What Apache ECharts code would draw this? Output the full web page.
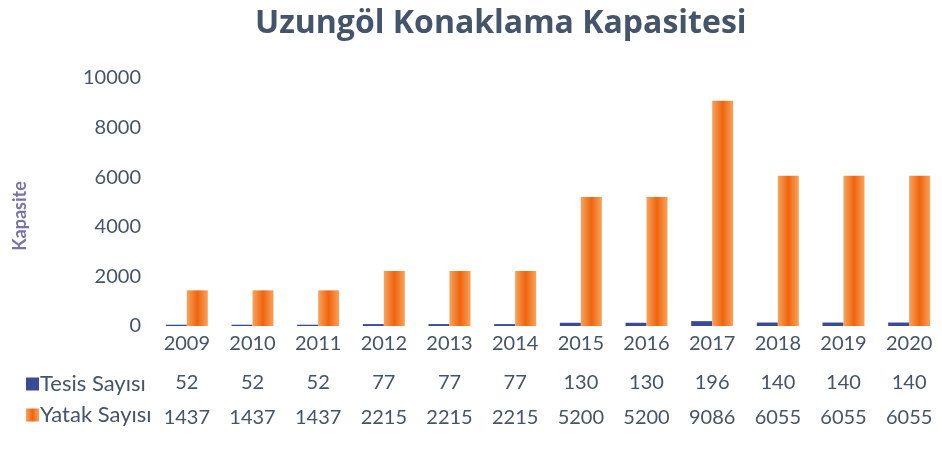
<!DOCTYPE html>
<html lang="tr">
<head>
    <meta charset="UTF-8">
    <title>Uzungöl Konaklama Kapasitesi</title>
    <style>
        html, body { margin: 0; padding: 0; background: #fff; }
        #main { width: 942px; height: 475px; }
    </style>
</head>
<body>
    <div id="main"></div>
    <script src="https://cdn.jsdelivr.net/npm/echarts@6/dist/echarts.min.js"></script>
    <script>
        // veriler
        var years = ['2009', '2010', '2011', '2012', '2013', '2014', '2015', '2016', '2017', '2018', '2019', '2020'];
        var tesisSayisi = [52, 52, 52, 77, 77, 77, 130, 130, 196, 140, 140, 140];
        var yatakSayisi = [1437, 1437, 1437, 2215, 2215, 2215, 5200, 5200, 9086, 6055, 6055, 6055];
        var yTicks = [0, 2000, 4000, 6000, 8000, 10000];

        var textColor = '#44546A';
        var orange = new echarts.graphic.LinearGradient(0, 0, 1, 0, [
            { offset: 0, color: '#F7A35C' },
            { offset: 0.5, color: '#F0640E' },
            { offset: 1, color: '#F7A35C' }
        ]);

        var myChart = echarts.init(document.getElementById('main'));

        var option = {
            animation: false,
            title: {
                text: 'Uzungöl Konaklama Kapasitesi',
                left: 250,
                top: 3,
                textStyle: { fontFamily: 'Open Sans', fontWeight: 'bold', fontSize: 32, color: textColor }
            },
            legend: {
                orient: 'vertical',
                left: 21,
                top: 368,
                itemWidth: 13,
                itemHeight: 13,
                itemGap: 9,
                icon: 'rect',
                textStyle: { fontFamily: 'Lato', fontSize: 22, color: textColor, padding: [0, 0, 0, -4] },
                data: ['Tesis Sayısı', 'Yatak Sayısı']
            },
            grid: { left: 154, right: 0, top: 78, bottom: 149 },
            xAxis: {
                type: 'category',
                data: years,
                axisLine: { show: false },
                axisTick: { show: false },
                axisLabel: {
                    margin: 6,
                    interval: 0,
                    fontFamily: 'Lato',
                    fontSize: 20,
                    color: textColor,
                    formatter: function (value, idx) {
                        return '{a|' + value + '}\n{b|' + tesisSayisi[idx] + '}\n{c|' + yatakSayisi[idx] + '}';
                    },
                    rich: {
                        a: { fontFamily: 'Lato', fontSize: 20, color: textColor, lineHeight: 24 },
                        b: { fontFamily: 'Lato', fontSize: 20, color: textColor, lineHeight: 54 },
                        c: { fontFamily: 'Lato', fontSize: 20, color: textColor, lineHeight: 16 }
                    }
                }
            },
            yAxis: {
                type: 'value',
                min: yTicks[0],
                max: yTicks[yTicks.length - 1],
                interval: 2000,
                name: 'Kapasite',
                nameLocation: 'middle',
                nameGap: 125,
                nameTextStyle: {
                    fontFamily: 'Lato', fontWeight: 'bold', fontSize: 18, color: '#7872AA',
                    padding: [0, 28, 0, 0]
                },
                splitLine: { show: false },
                axisLine: { show: false },
                axisTick: { show: false },
                axisLabel: {
                    fontFamily: 'Lato', fontSize: 20, color: textColor, margin: 13,
                    formatter: function (v) { return String(v); }
                }
            },
            series: [
                {
                    name: 'Tesis Sayısı',
                    type: 'bar',
                    data: tesisSayisi,
                    barWidth: 21,
                    barGap: '0%',
                    itemStyle: { color: '#3B4A96' }
                },
                {
                    name: 'Yatak Sayısı',
                    type: 'bar',
                    data: yatakSayisi,
                    barWidth: 21,
                    itemStyle: { color: orange }
                }
            ]
        };

        myChart.setOption(option);
    </script>
</body>
</html>
